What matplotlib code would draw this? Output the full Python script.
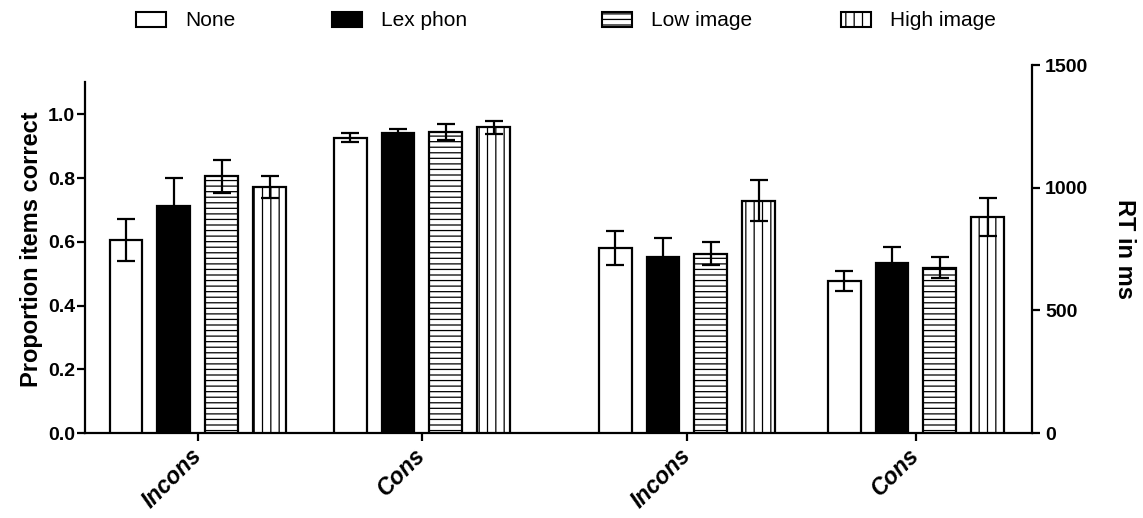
import matplotlib
matplotlib.use("Agg")
import matplotlib.pyplot as plt
from matplotlib.patches import Patch

plt.rcParams["font.family"] = ["Liberation Sans", "DejaVu Sans"]
plt.rcParams["hatch.linewidth"] = 0.9

conditions = ["None", "Lex phon", "Low image", "High image"]
groups = ["Incons", "Cons"]

# proportion correct (left half), rows = condition, cols = Incons / Cons
acc_mean = [[0.607, 0.926], [0.711, 0.941], [0.805, 0.945], [0.772, 0.959]]
acc_err = [[0.066, 0.014], [0.090, 0.014], [0.053, 0.025], [0.034, 0.020]]

# RT in ms (right half)
rt_mean = [[753, 620], [717, 692], [731, 674], [947, 879]]
rt_err = [[70, 42], [78, 68], [47, 43], [84, 77]]

colors = ["white", "black", "white", "white"]
hatches = ["", "", "---", "||"]

left_pos = [0.0, 1.0]
right_pos = [2.183, 3.205]
offsets = [-0.321, -0.107, 0.107, 0.321]
width = 0.147

fig = plt.figure(figsize=(11.43, 5.18), dpi=100)
ax = fig.add_axes([85 / 1143, 85 / 518, 947 / 1143, 368 / 518])
ax2 = ax.twinx()

err_kw = dict(fmt="none", ecolor="black", elinewidth=1.6, capsize=6.5, capthick=1.6, zorder=5)

for i in range(4):
    xs = [p + offsets[i] for p in left_pos]
    ax.bar(xs, acc_mean[i], width, color=colors[i], edgecolor="black",
           linewidth=1.6, hatch=hatches[i], zorder=3)
    ax.errorbar(xs, acc_mean[i], yerr=acc_err[i], **err_kw)

    xs = [p + offsets[i] for p in right_pos]
    ax2.bar(xs, rt_mean[i], width, color=colors[i], edgecolor="black",
            linewidth=1.6, hatch=hatches[i], zorder=3)
    ax2.errorbar(xs, rt_mean[i], yerr=rt_err[i], **err_kw)

ax.set_xlim(-0.504, 3.723)
ax.set_ylim(0, 1.1547)
ax2.set_ylim(0, 1500)

ax.set_yticks([0.0, 0.2, 0.4, 0.6, 0.8, 1.0])
ax.set_yticklabels(["0.0", "0.2", "0.4", "0.6", "0.8", "1.0"])
ax2.set_yticks([0, 500, 1000, 1500])

ax.set_xticks(left_pos + right_pos)
ax.set_xticklabels(groups + groups, rotation=45, ha="right", va="center",
                   rotation_mode="anchor", fontsize=16.5, fontweight="bold",
                   fontstyle="italic")

for s in ["top", "right"]:
    ax.spines[s].set_visible(False)
for s in ["top", "left", "bottom"]:
    ax2.spines[s].set_visible(False)
ax.spines["left"].set_bounds(0, 1.1)
ax.spines["left"].set_linewidth(1.6)
ax.spines["bottom"].set_linewidth(1.6)
ax2.spines["right"].set_linewidth(1.6)

ax.tick_params(axis="y", direction="out", length=5.5, width=1.6, pad=1.5, labelsize=14)
ax.tick_params(axis="x", direction="out", length=5.5, width=1.6, pad=8)
ax2.tick_params(axis="y", direction="out", length=5.5, width=1.6, pad=4, labelsize=14)
for lab in ax.get_yticklabels() + ax2.get_yticklabels():
    lab.set_fontweight("bold")

ax.set_ylabel("Proportion items correct", fontsize=17, fontweight="bold", labelpad=4)
ax2.set_ylabel("RT in ms", fontsize=17, fontweight="bold", rotation=270, labelpad=34)

# legend entries spread across the top
legend_x = [136, 332, 602, 841]
for i in range(4):
    h = Patch(facecolor=colors[i], edgecolor="black", linewidth=1.5, hatch=hatches[i])
    fig.legend(handles=[h], labels=[conditions[i]], loc="center left",
               bbox_to_anchor=(legend_x[i] / 1143, 1 - 21 / 518), frameon=False,
               fontsize=15, borderpad=0, borderaxespad=0, handlelength=1.45,
               handleheight=0.75, handletextpad=0.9)

fig.savefig("out.png", dpi=100)
